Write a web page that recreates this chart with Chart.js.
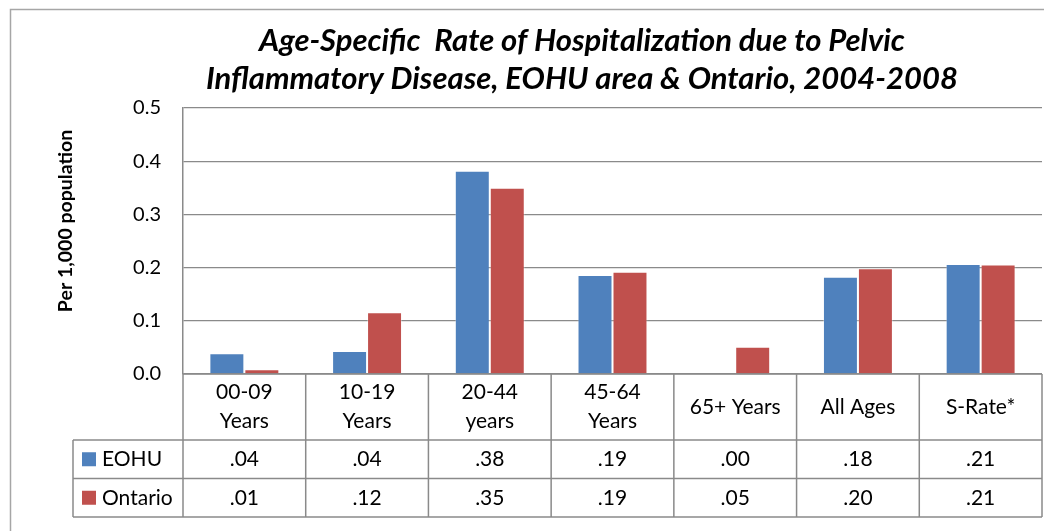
<!DOCTYPE html>
<html>
<head>
<meta charset="utf-8">
<script src="https://cdn.jsdelivr.net/npm/chart.js@4"></script>
<style>
  body { margin: 0; background: #fff; }
  #wrap { width: 1044px; height: 531px; position: relative; }
</style>
</head>
<body>
<div id="wrap"><canvas id="pid"></canvas></div>
<script>
const ageGroups = [["00-09", "Years"], ["10-19", "Years"], ["20-44", "years"], ["45-64", "Years"], "65+ Years", "All Ages", "S-Rate*"];
const eohuRates = [0.039, 0.043, 0.382, 0.186, 0.0, 0.183, 0.207];
const ontarioRates = [0.009, 0.116, 0.35, 0.192, 0.051, 0.199, 0.206];
const seriesNames = ["EOHU", "Ontario"];
const titleLines = ["Age-Specific  Rate of Hospitalization due to Pelvic", "Inflammatory Disease, EOHU area & Ontario, 2004-2008"];
const yTitle = "Per 1,000 population";

const colors = ["#4F81BD", "#C0504D"];
const lineGray = "#8a8a8a";
const font = "Lato";

Chart.defaults.font.family = font;
Chart.defaults.color = "#000";

// .04 style, like the Excel data table
function fmt(v) {
  return v.toFixed(2).replace(/^0/, "");
}

const extras = {
  id: "extras",
  beforeDraw(chart) {
    const ctx = chart.ctx;
    ctx.save();
    ctx.strokeStyle = "#a6a6a6";
    ctx.lineWidth = 1.5;
    ctx.strokeRect(10.5, 9.5, 1200, 700);
    ctx.restore();
  },
  afterDraw(chart) {
    const ctx = chart.ctx;
    const area = chart.chartArea;
    const xs = chart.scales.x;
    const n = ageGroups.length;
    const colW = (area.right - area.left) / n;
    const top = area.bottom;
    const headH = 66;
    const rowH = 38.5;
    const legLeft = 73;
    const series = [eohuRates, ontarioRates];

    ctx.save();
    // title
    ctx.fillStyle = "#000";
    ctx.textAlign = "center";
    ctx.textBaseline = "middle";
    ctx.font = "italic bold 31px " + font;
    ctx.fillText(titleLines[0], 582, 41);
    ctx.fillText(titleLines[1], 582, 79);

    // y axis title
    ctx.save();
    ctx.translate(66, 221);
    ctx.rotate(-Math.PI / 2);
    ctx.font = "bold 19.5px " + font;
    ctx.fillText(yTitle, 0, 0);
    ctx.restore();

    // table grid
    ctx.strokeStyle = lineGray;
    ctx.lineWidth = 1.5;
    ctx.beginPath();
    for (let i = 0; i <= n; i++) {
      const x = area.left + i * colW;
      ctx.moveTo(x, top);
      ctx.lineTo(x, top + headH + 2 * rowH);
    }
    ctx.moveTo(area.left, top);
    ctx.lineTo(area.right, top);
    for (let r = 0; r <= 2; r++) {
      const y = top + headH + r * rowH;
      ctx.moveTo(legLeft, y);
      ctx.lineTo(area.right, y);
    }
    ctx.moveTo(legLeft, top + headH);
    ctx.lineTo(legLeft, top + headH + 2 * rowH);
    ctx.stroke();

    // header labels
    ctx.font = "21px " + font;
    ctx.fillStyle = "#000";
    ageGroups.forEach((lab, i) => {
      const cx = xs.getPixelForValue(i);
      const lines = Array.isArray(lab) ? lab : [lab];
      const mid = top + headH / 2;
      lines.forEach((t, k) => {
        const y = mid + (k - (lines.length - 1) / 2) * 29;
        ctx.fillText(t, cx, y);
      });
    });

    // rows
    series.forEach((vals, r) => {
      const cy = top + headH + r * rowH + rowH / 2;
      ctx.fillStyle = colors[r];
      ctx.fillRect(legLeft + 9, cy - 7, 14, 14);
      ctx.fillStyle = "#000";
      ctx.textAlign = "left";
      ctx.fillText(seriesNames[r], legLeft + 29, cy);
      ctx.textAlign = "center";
      vals.forEach((v, i) => {
        ctx.fillText(fmt(v), xs.getPixelForValue(i), cy);
      });
    });
    ctx.restore();
  }
};

new Chart("pid", {
  type: "bar",
  data: {
    labels: ageGroups,
    datasets: [
      {
        label: seriesNames[0],
        data: eohuRates,
        backgroundColor: colors[0],
        borderColor: "rgba(255,255,255,0.35)",
        borderWidth: 1,
        categoryPercentage: 0.57,
        barPercentage: 1,
      },
      {
        label: seriesNames[1],
        data: ontarioRates,
        backgroundColor: colors[1],
        borderColor: "rgba(255,255,255,0.35)",
        borderWidth: 1,
        categoryPercentage: 0.57,
        barPercentage: 1,
      },
    ],
  },
  options: {
    responsive: true,
    maintainAspectRatio: false,
    animation: false,
    layout: { padding: { left: 10, right: 2, top: 108, bottom: 157 } },
    plugins: {
      legend: { display: false },
      tooltip: { enabled: false },
    },
    scales: {
      x: {
        display: false,
      },
      y: {
        min: 0,
        max: 0.5,
        afterFit: (scale) => { scale.width = 173; },
        ticks: {
          stepSize: 0.1,
          padding: 22,
          font: { size: 20 },
          callback: (v) => v.toFixed(1),
        },
        grid: { color: lineGray, lineWidth: 1.2, drawTicks: false },
        border: { color: lineGray, width: 1.5 },
      },
    },
  },
  plugins: [extras],
});
</script>
</body>
</html>
